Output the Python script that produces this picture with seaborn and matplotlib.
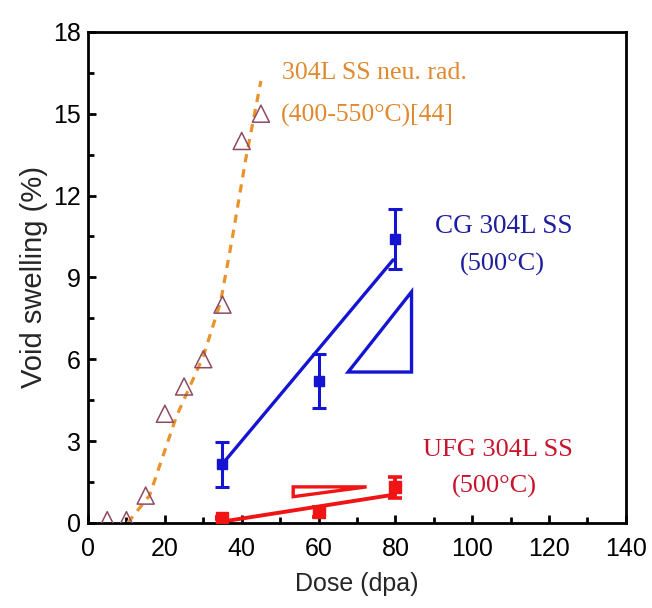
import numpy as np
import matplotlib
matplotlib.use("Agg")
import matplotlib.pyplot as plt
from matplotlib.patches import Polygon
from matplotlib.ticker import MultipleLocator
import seaborn as sns

# neutron irradiation data (open triangles) and guide curve
neu_dose = [5, 10, 15, 20, 25, 30, 35, 40, 45]
neu_swell = [0.1, 0.1, 1.0, 4.0, 5.0, 6.0, 8.0, 14.0, 15.0]
neu_curve_dose = [10.3, 16, 23, 30, 34.5, 37.5, 41, 45]
neu_curve_swell = [0.0, 1.0, 3.9, 6.1, 8.1, 10.4, 13.3, 16.2]

# coarse grained 304L SS (blue)
cg_dose = [35, 60, 80]
cg_swell = [2.15, 5.2, 10.4]
cg_err = [0.83, 1.0, 1.1]
cg_fit_dose = [34.8, 79.4]
cg_fit_swell = [2.13, 9.64]
cg_slope_tri = [(67.7, 5.53), (84.2, 5.53), (84.2, 8.47)]

# ultrafine grained 304L SS (red)
ufg_dose = [35, 60, 80]
ufg_swell = [0.18, 0.4, 1.3]
ufg_err = [0.05, 0.2, 0.4]
ufg_fit_dose = [35.1, 79.4]
ufg_fit_swell = [0.05, 1.03]
ufg_slope_tri = [(53.4, 1.32), (72.5, 1.32), (53.4, 0.96)]

x_ticks = [0, 20, 40, 60, 80, 100, 120, 140]
y_ticks = [0, 3, 6, 9, 12, 15, 18]

sns.set_style("ticks")
plt.rcParams['font.family'] = ['Liberation Sans', 'DejaVu Sans']

fig = plt.figure(figsize=(6.52, 6.08), dpi=100)
ax = fig.add_axes([0.135, 0.140, 0.825, 0.8076])

orange = '#E8932C'
blue = '#1414D2'
red = '#F01414'

# neutron curve + points
sns.lineplot(x=neu_curve_dose, y=neu_curve_swell, ax=ax, color=orange,
             linewidth=2.3, linestyle=(0, (2.6, 2.2)), sort=False)
sns.scatterplot(x=neu_dose, y=neu_swell, ax=ax, marker='^', s=150,
                facecolors='none', edgecolors='#8E4A62', linewidth=1.1,
                zorder=4)

# CG
sns.lineplot(x=cg_fit_dose, y=cg_fit_swell, ax=ax, color=blue, linewidth=2.4)
ax.errorbar(cg_dose, cg_swell, yerr=cg_err, fmt='s', color=blue,
            markersize=7, capsize=5, elinewidth=2.2, capthick=2.2, zorder=5)
ax.add_patch(Polygon(cg_slope_tri, closed=True, fill=False,
                     edgecolor=blue, linewidth=2.4))

# UFG
sns.lineplot(x=ufg_fit_dose, y=ufg_fit_swell, ax=ax, color=red, linewidth=2.8)
ax.errorbar(ufg_dose, ufg_swell, yerr=ufg_err, fmt='s', color=red,
            markersize=8, capsize=5, elinewidth=2.8, capthick=2.6, zorder=5)
ax.add_patch(Polygon(ufg_slope_tri, closed=True, fill=False,
                     edgecolor=red, linewidth=2.4))

# annotations
serif = ['Liberation Serif', 'DejaVu Serif']
ax.text(50.5, 16.5, '304L SS neu. rad.', color='#E0892E', fontsize=18.5,
        family=serif, va='center', ha='left')
ax.text(50.2, 14.95, '(400-550°C)[44]', color='#E0892E', fontsize=18.5,
        family=serif, va='center', ha='left')
ax.text(90.3, 10.86, 'CG 304L SS', color='#1E1E9E', fontsize=19.5,
        family=serif, va='center', ha='left')
ax.text(96.8, 9.46, '(500°C)', color='#1E1E9E', fontsize=19,
        family=serif, va='center', ha='left')
ax.text(87.3, 2.68, 'UFG 304L SS', color='#C8142C', fontsize=19,
        family=serif, va='center', ha='left')
ax.text(94.6, 1.33, '(500°C)', color='#C8142C', fontsize=19,
        family=serif, va='center', ha='left')

ax.set_xlim(0, 140)
ax.set_ylim(0, 18)
ax.set_xticks(x_ticks)
ax.set_yticks(y_ticks)
ax.xaxis.set_minor_locator(MultipleLocator(10))
ax.yaxis.set_minor_locator(MultipleLocator(1.5))
ax.tick_params(which='both', direction='in', width=2, labelsize=18,
               top=False, right=False, colors='black')
ax.tick_params(which='major', length=6, pad=5)
ax.tick_params(axis='x', which='major', pad=10)
ax.tick_params(which='minor', length=4)
for s in ax.spines.values():
    s.set_linewidth(2.0)
    s.set_color('black')

ax.set_xlabel('Dose (dpa)', fontsize=18, labelpad=8)
ax.set_ylabel('Void swelling (%)', fontsize=21, labelpad=4)

fig.savefig('out.png', dpi=100)
